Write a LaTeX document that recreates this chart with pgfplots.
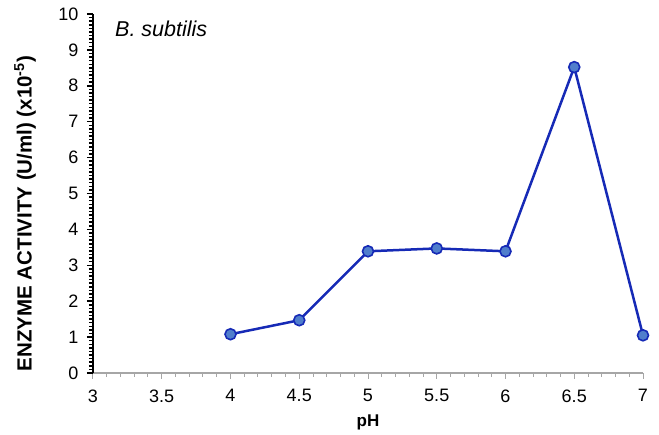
\documentclass[border=0pt]{standalone}
\usepackage{fontspec}
\setmainfont{Liberation Sans}
\usepackage{pgfplots}
\pgfplotsset{compat=1.18}
\definecolor{lineblue}{RGB}{22,42,182}
\definecolor{markfill}{RGB}{80,126,204}
\begin{document}
\fontsize{16}{19}\selectfont
\begin{tikzpicture}
\begin{axis}[
  scale only axis, width=550pt, height=359pt,
  xmin=3, xmax=7, ymin=0, ymax=10,
  axis x line*=bottom, axis y line*=left,
  x axis line style={gray!70, line width=1.2pt},
  y axis line style={black, line width=2.2pt},
  tick align=outside,
  xtick={3,3.5,4,4.5,5,5.5,6,6.5,7},
  xticklabels={3,3.5,4,4.5,5,5.5,6,6.5,7},
  ytick={0,1,2,3,4,5,6,7,8,9,10},
  minor x tick num=4, minor y tick num=9,
  major tick length=6pt, minor tick length=4pt,
  x tick style={gray!70, line width=1pt},
  y tick style={black, line width=1.5pt},
  tick label style={font=\fontsize{18}{21}\selectfont},
  xticklabel style={yshift=-5pt},
  yticklabel style={xshift=-3pt},
  /pgf/number format/assume math mode=true,
  xlabel={\textbf{pH}},
  ylabel={\textbf{ENZYME ACTIVITY (U/ml) (x10\textsuperscript{-5})}},
  every axis x label/.style={at={(rel axis cs:0.5,0)}, yshift=-49pt, anchor=center, font=\fontsize{17}{20}\selectfont},
  every axis y label/.style={at={(rel axis cs:0,0.444)}, xshift=-68pt, rotate=90, anchor=center, font=\fontsize{20.5}{24}\selectfont},
  clip=false,
]
\addplot[lineblue, line width=2.5pt, mark=*, mark size=5.5pt,
  mark options={fill=markfill, draw=lineblue, line width=1.6pt}]
  coordinates {(4,1.08) (4.5,1.47) (5,3.39) (5.5,3.47) (6,3.39) (6.5,8.52) (7,1.05)};
\node[anchor=base west, inner sep=0pt, font=\itshape\fontsize{21.5}{25}\selectfont] at (rel axis cs:0.04,0.936) {B. subtilis};
\end{axis}
\path (current axis.south west) ++(-93pt,-61pt) rectangle ++(659pt,434pt);
\end{tikzpicture}
\end{document}
